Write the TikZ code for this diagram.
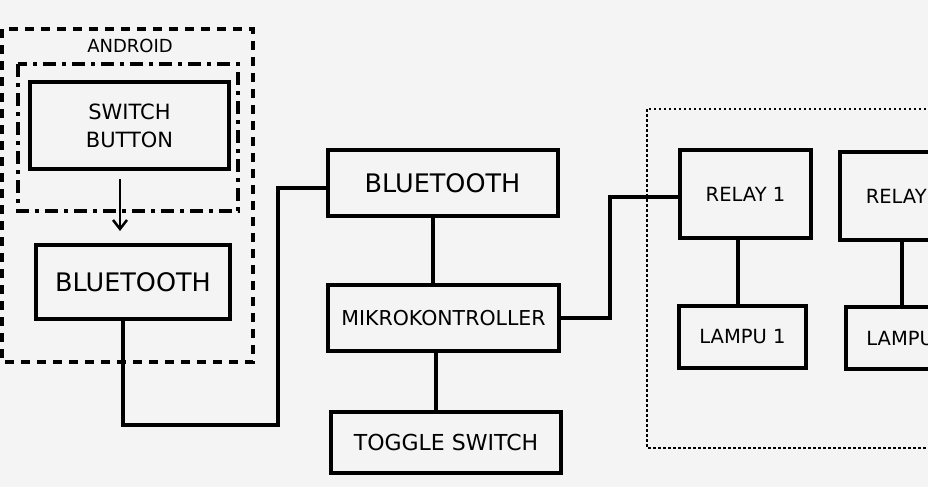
\documentclass[tikz,border=0pt]{standalone}
\usepackage{fontspec}
\setmainfont{DejaVu Sans}
\usetikzlibrary{arrows.meta}
\definecolor{mybggray}{RGB}{244,244,244}
\newcommand{\widthblock}{230pt}
\newcommand{\widthrelay}{131pt}
\newcommand{\widthlamp}{127pt}
\tikzset{
    common/.style={draw, rectangle, line width=4pt, inner sep=0pt, align=center},
    block/.style={common, minimum width=\widthblock, minimum height=66pt},
    relaybox/.style={common, minimum width=\widthrelay, minimum height=88pt, font=\fontsize{19.5}{23}\selectfont},
    lampbox/.style={common, minimum width=\widthlamp, minimum height=62pt, font=\fontsize{19.5}{23}\selectfont},
    wire/.style={line width=4pt},
    flow/.style={line width=2.5pt, -{Straight Barb[length=9pt, width=14pt, line width=2.5pt]}},
    outerbox/.style={line width=4pt, dash pattern=on 9pt off 7pt},
    innerbox/.style={line width=3.5pt, dash pattern=on 13pt off 6pt on 4pt off 6pt},
    dotbox/.style={line width=1.6pt, dash pattern=on 2.5pt off 2.5pt}
}
\begin{document}
\begin{tikzpicture}[x=1pt, y=-1pt]
    \useasboundingbox (0,0) rectangle (928,487);
    \fill[mybggray] (0,0) rectangle (928,487);
    \clip (0,0) rectangle (928,487);

    % android side
    \draw[outerbox] (2,29) rectangle (253,362);
    \draw[innerbox] (18,64) rectangle (238,211);
    \node[font=\fontsize{18}{21}\selectfont] (android) at (130,46) {ANDROID};
    \node[common, minimum width=199pt, minimum height=87pt, font=\fontsize{21}{28}\selectfont] (sw) at (129.5,125.5) {SWITCH\\BUTTON};
    \node[common, minimum width=194pt, minimum height=74pt, font=\fontsize{25.5}{30}\selectfont] (lbt) at (133,282) {BLUETOOTH};

    % controller side
    \node[block, font=\fontsize{25.5}{30}\selectfont] (bt) at (442.5,183) {BLUETOOTH};
    \node[block, minimum width=231pt, font=\fontsize{20.5}{24}\selectfont] (mik) at (443.5,318) {MIKROKONTROLLER};
    \node[block, minimum height=61pt, font=\fontsize{22}{26}\selectfont] (tog) at (446,442.5) {TOGGLE SWITCH};

    % relay side
    \draw[dotbox] (647,109) rectangle (990,448);
    \node[relaybox] (relay1) at (745.5,194) {RELAY 1};
    \node[lampbox] (lamp1) at (742.5,337) {LAMPU 1};
    \node[relaybox] (relay2) at (905.5,196) {RELAY 2};
    \node[lampbox] (lamp2) at (909.5,338) {LAMPU 2};

    \coordinate (jl) at (278,425);
    \coordinate (jr) at (610,197);

    \draw[flow, shorten <=8pt, shorten >=12pt] ([xshift=-9.5pt]sw.south) -- ([xshift=-9.5pt]sw.south |- lbt.north);
    \draw[wire] ([xshift=-10pt]lbt.south) |- (jl) |- ([yshift=-5pt]bt.west);
    \draw[wire] ([xshift=-10pt]bt.south) -- ([xshift=-10pt]bt.south |- mik.north);
    \draw[wire] ([xshift=-8pt]mik.south) -- ([xshift=-8pt]mik.south |- tog.north);
    \draw[wire] (mik.east) -| (jr) |- ([yshift=-3pt]relay1.west);
    \draw[wire] ([xshift=-8pt]relay1.south) -- ([xshift=-8pt]relay1.south |- lamp1.north);
    \draw[wire] ([xshift=-3.5pt]relay2.south) -- ([xshift=-3.5pt]relay2.south |- lamp2.north);
\end{tikzpicture}
\end{document}
